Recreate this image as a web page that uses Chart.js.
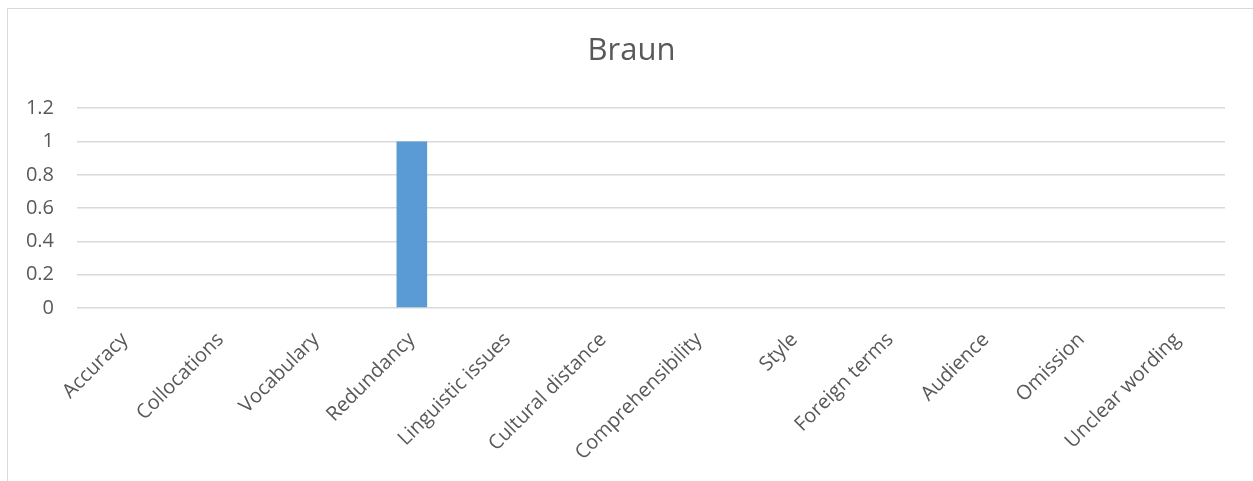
<!DOCTYPE html>
<html><head><meta charset="utf-8">
<script src="https://cdn.jsdelivr.net/npm/chart.js@4"></script>
<style>
html,body{margin:0;padding:0;background:#fff;overflow:hidden;}
#frame{position:absolute;left:7px;top:8px;width:1400px;height:700px;border:1px solid #d9d9d9;box-sizing:border-box;}
#wrap{position:absolute;left:0;top:0;width:1253px;height:481px;}
</style></head>
<body>
<div id="frame"></div>
<div id="wrap"><canvas id="c" width="1253" height="481"></canvas></div>
<script>
const categories = ["Accuracy","Collocations","Vocabulary","Redundancy","Linguistic issues","Cultural distance","Comprehensibility","Style","Foreign terms","Audience","Omission","Unclear wording"];
const values = [0,0,0,1,0,0,0,0,0,0,0,0];
const yTicks = [0,0.2,0.4,0.6,0.8,1,1.2];
const titleText = "Braun";

const FONT = "'Open Sans', sans-serif";
const shiftTitle = {
  id: 'shiftTitle',
  afterLayout(chart) {
    const t = chart.titleBlock;
    if (t) { t.left += 9; t.right += 9; }
  }
};
new Chart(document.getElementById('c'), {
  type: 'bar',
  data: { labels: categories, datasets: [{ data: values, backgroundColor: '#5b9bd5', borderWidth: 0, barPercentage: 0.32, categoryPercentage: 1 }] },
  plugins: [shiftTitle],
  options: {
    responsive: false, animation: false, devicePixelRatio: 1,
    layout: { padding: { left: 20, right: 28, top: 0, bottom: 0 } },
    plugins: {
      legend: { display: false }, tooltip: { enabled: false },
      title: { display: true, text: titleText, color: '#595959', font: { family: FONT, size: 31, weight: 'normal' }, padding: { top: 33, bottom: 38 } }
    },
    scales: {
      x: {
        grid: { display: false, drawTicks: false },
        border: { display: false },
        ticks: { color: '#595959', font: { family: FONT, size: 20 }, maxRotation: 45, minRotation: 45, padding: 20, autoSkip: false },
        afterFit: s => { s.height = 173; }
      },
      y: {
        min: 0, max: 1.2,
        afterBuildTicks: s => { s.ticks = yTicks.map(v => ({ value: v })); },
        grid: { color: '#d9d9d9', lineWidth: 1.5, drawTicks: false },
        border: { display: false },
        ticks: { color: '#595959', font: { family: FONT, size: 20 }, padding: 23, callback: v => String(v) },
        afterFit: s => { s.width = 57; }
      }
    }
  }
});
</script>
</body></html>
